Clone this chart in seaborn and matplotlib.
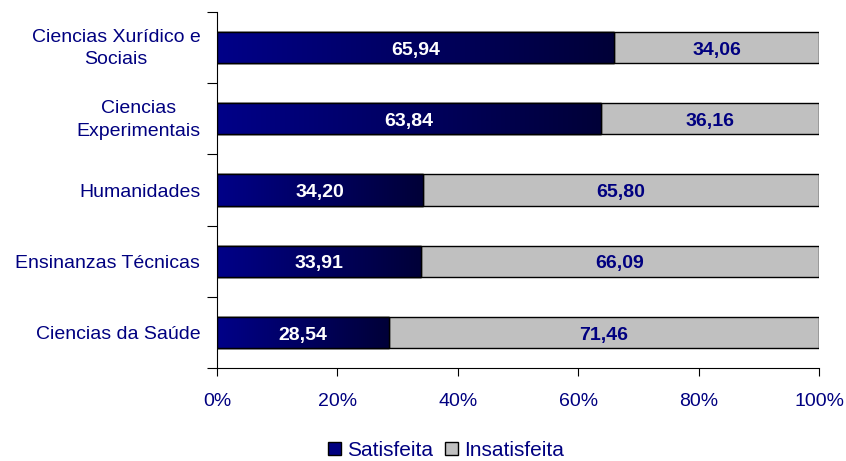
import numpy as np
import pandas as pd
import matplotlib
matplotlib.use("Agg")
import matplotlib.pyplot as plt
import matplotlib.transforms as mtransforms
import seaborn as sns
from matplotlib.colors import LinearSegmentedColormap
from matplotlib.patches import Rectangle, Patch

categories = ["Ciencias Xurídico e\nSociais", "Ciencias\nExperimentais", "Humanidades",
              "Ensinanzas Técnicas", "Ciencias da Saúde"]
satisfeita = [65.94, 63.84, 34.20, 33.91, 28.54]
insatisfeita = [34.06, 36.16, 65.80, 66.09, 71.46]
series_names = ["Satisfeita", "Insatisfeita"]
xtick_labels = ["0%", "20%", "40%", "60%", "80%", "100%"]

sns.set_theme(style="white")
plt.rcParams['font.family'] = ['Liberation Sans', 'DejaVu Sans']

NAVY = "#000080"
GREY = "#C0C0C0"

df = pd.DataFrame({"cat": categories, "sat": satisfeita, "ins": insatisfeita})
df["total"] = df["sat"] + df["ins"]

fig = plt.figure(figsize=(8.46, 4.61), dpi=100)
ax = fig.add_axes([217/846, 1-368/461, (819-217)/846, (368-12)/461])

sns.barplot(data=df, x="total", y="cat", orient="h", color=GREY, saturation=1,
            width=0.44, edgecolor="black", linewidth=1.0, ax=ax)
n_grey = len(ax.patches)
sns.barplot(data=df, x="sat", y="cat", orient="h", color=NAVY, saturation=1,
            width=0.44, edgecolor="black", linewidth=1.0, ax=ax)
blue_patches = ax.patches[n_grey:]

cmap = LinearSegmentedColormap.from_list("g", ["#000088", "#000038"])
grad = np.linspace(0, 1, 256).reshape(1, -1)
for p in blue_patches:
    x0, y0 = p.get_x(), p.get_y()
    w, h = p.get_width(), p.get_height()
    im = ax.imshow(grad, cmap=cmap, aspect="auto", extent=[x0, x0 + w, y0 + h, y0],
                   zorder=p.get_zorder() + 0.1, interpolation="bicubic")
    im.set_clip_path(p)
    ax.add_patch(Rectangle((x0, y0), w, h, fill=False, edgecolor="black",
                           linewidth=1.0, zorder=p.get_zorder() + 0.2))

for i, (s, q) in enumerate(zip(satisfeita, insatisfeita)):
    ax.text(s / 2, i + 0.01, f"{s:.2f}".replace(".", ","), ha="center", va="center_baseline",
            color="white", fontsize=14, fontweight="bold", zorder=10)
    ax.text(s + q / 2, i + 0.01, f"{q:.2f}".replace(".", ","), ha="center", va="center_baseline",
            color=NAVY, fontsize=14, fontweight="bold", zorder=10)

ax.set_xlim(0, 100)
ax.set_ylim(4.5, -0.5)
ax.set_xticks([0, 20, 40, 60, 80, 100])
ax.set_xticklabels(xtick_labels, color=NAVY, fontsize=14)
ax.set_yticks(range(len(categories)))
ax.set_yticklabels(categories, color=NAVY, fontsize=14, multialignment="center",
                   linespacing=1.45)
ax.set_yticks(np.arange(-0.5, len(categories), 1.0), minor=True)
ax.tick_params(axis="y", which="major", length=0, pad=12)
ax.tick_params(axis="y", which="minor", length=7, width=0.8, color="black", direction="out", left=True)
ax.tick_params(axis="x", which="major", length=6, width=0.8, color="black", direction="out", bottom=True, pad=12)
ax.set_xlabel("")
ax.set_ylabel("")
for sp in ["top", "right"]:
    ax.spines[sp].set_visible(False)
for sp in ["left", "bottom"]:
    ax.spines[sp].set_color("black")
    ax.spines[sp].set_linewidth(0.8)

shift = mtransforms.ScaledTranslation(0, 4/100, fig.dpi_scale_trans)
for lbl in ax.get_yticklabels():
    if "\n" in lbl.get_text():
        lbl.set_transform(lbl.get_transform() + shift)

handles = [Patch(facecolor=NAVY, edgecolor="black", linewidth=1.0),
           Patch(facecolor=GREY, edgecolor="black", linewidth=1.0)]
leg = fig.legend(handles, series_names, loc="center", bbox_to_anchor=(446/846, 1-450/461),
                 ncol=2, frameon=False, handlelength=0.6, handleheight=0.6,
                 handletextpad=0.3, columnspacing=0.6, fontsize=15)
for t in leg.get_texts():
    t.set_color(NAVY)

fig.savefig("out.png", dpi=100)
